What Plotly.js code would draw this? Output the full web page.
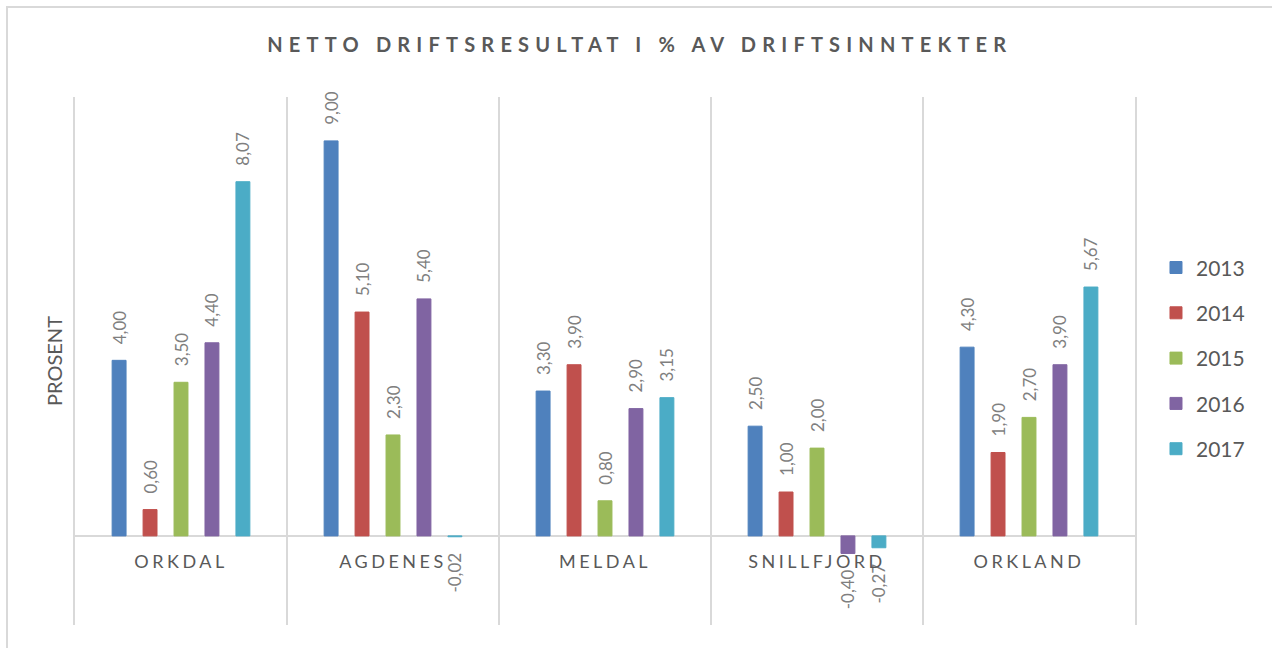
<!DOCTYPE html>
<html>
<head>
<meta charset="utf-8">
<script src="https://cdn.plot.ly/plotly-3.0.1.min.js"></script>
<style>
  html, body { margin: 0; padding: 0; background: #fff; overflow: hidden; }
  #wrap { position: relative; width: 1272px; height: 648px; }
  #frame { position: absolute; left: 6px; top: 6px; width: 1400px; height: 800px;
           border: 2px solid #d9d9d9; pointer-events: none; box-sizing: border-box; }
  #chart { position: absolute; left: 0; top: 0; width: 1272px; height: 648px; }
  .gtitle { letter-spacing: 6.2px; }
  .xtick text { letter-spacing: 3.5px; }
</style>
</head>
<body>
<div id="wrap">
  <div id="chart"></div>
  <div id="frame"></div>
</div>
<script>
// ---- data ----
const categories = ["ORKDAL", "AGDENES", "MELDAL", "SNILLFJORD", "ORKLAND"];
const years = ["2013", "2014", "2015", "2016", "2017"];
const v2013 = [4.00, 9.00, 3.30, 2.50, 4.30];
const v2014 = [0.60, 5.10, 3.90, 1.00, 1.90];
const v2015 = [3.50, 2.30, 0.80, 2.00, 2.70];
const v2016 = [4.40, 5.40, 2.90, -0.40, 3.90];
const v2017 = [8.07, -0.02, 3.15, -0.27, 5.67];
const seriesValues = [v2013, v2014, v2015, v2016, v2017];
const colors = ["#4f81bd", "#c0504d", "#9bbb59", "#8064a2", "#4bacc6"];

const yRange = [-2.03, 10];
const NB = "\u00a0\u00a0\u00a0";

const traces = seriesValues.map((vals, i) => ({
  type: "bar",
  name: years[i],
  legendgroup: years[i],
  x: categories,
  y: vals,
  marker: { color: colors[i], line: { color: colors[i], width: 1 } },
  texttemplate: vals.map(v => v < 0 ? "%{y:.2f}" + NB : NB + "%{y:.2f}"),
  textposition: "outside",
  textangle: -90,
  constraintext: "none",
  cliponaxis: false,
  textfont: { family: "Lato, 'Open Sans', sans-serif", size: 17, color: "#7f7f7f" },
  hoverinfo: "x+y+name"
}));

const layout = {
  width: 1272,
  height: 648,
  paper_bgcolor: "rgba(0,0,0,0)",
  plot_bgcolor: "rgba(0,0,0,0)",
  margin: { l: 75, r: 137, t: 97, b: 23 },
  separators: ", ",
  font: { family: "Lato, 'Open Sans', sans-serif", color: "#595959" },
  title: {
    text: "NETTO DRIFTSRESULTAT I % AV DRIFTSINNTEKTER",
    font: { family: "Lato, 'Open Sans', sans-serif", size: 20, color: "#595959", weight: "bold" },
    xref: "container", x: 0.503, xanchor: "center",
    yref: "container", y: 1 - 45 / 648, yanchor: "middle"
  },
  barmode: "group",
  bargap: 0.27,
  bargroupgap: 0.55,
  showlegend: true,
  legend: {
    x: 1.0198, xanchor: "left",
    y: 0.505, yanchor: "middle",
    font: { family: "Lato, 'Open Sans', sans-serif", size: 21, color: "#595959" },
    tracegroupgap: 15,
    bgcolor: "rgba(0,0,0,0)"
  },
  xaxis: {
    type: "category",
    anchor: "free",
    position: (0 - yRange[0]) / (yRange[1] - yRange[0]),
    showline: false,
    ticks: "",
    tickson: "boundaries",
    showgrid: true,
    gridcolor: "#d9d9d9",
    gridwidth: 2,
    tickfont: { family: "Lato, 'Open Sans', sans-serif", size: 18, color: "#595959" },
    ticklabelstandoff: 13,
    fixedrange: true
  },
  yaxis: {
    range: yRange,
    showgrid: false,
    zeroline: true,
    zerolinecolor: "#d9d9d9",
    zerolinewidth: 2,
    showline: true,
    mirror: true,
    linecolor: "#d9d9d9",
    linewidth: 2,
    ticks: "",
    showticklabels: false,
    title: {
      text: "PROSENT",
      font: { family: "Lato, 'Open Sans', sans-serif", size: 20, color: "#595959" },
      standoff: 5
    },
    fixedrange: true
  }
};

Plotly.newPlot("chart", traces, layout, { displayModeBar: false, staticPlot: true });
</script>
</body>
</html>
